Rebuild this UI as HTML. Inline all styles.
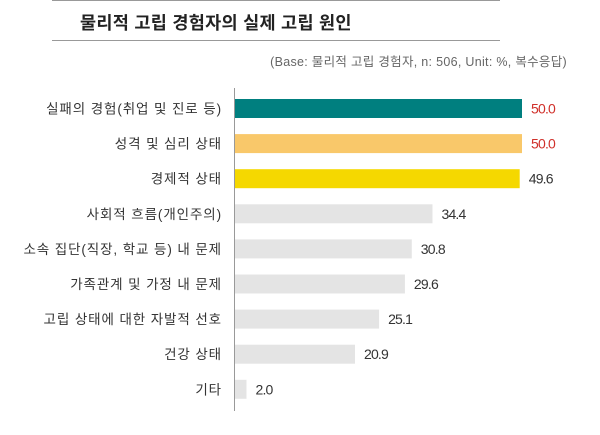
<!DOCTYPE html>
<html><head><meta charset="utf-8"><style>
body{margin:0;width:600px;height:430px;background:#fff;overflow:hidden;font-family:"Liberation Sans","Noto Sans CJK KR",sans-serif;}
</style></head><body>
<svg width="600" height="430" xmlns="http://www.w3.org/2000/svg">
<line x1="52" y1="0.5" x2="500" y2="0.5" stroke="#999"/>
<text x="80" y="29" font-size="17.5" font-weight="bold" fill="#222" letter-spacing="0.3">물리적 고립 경험자의 실제 고립 원인</text>
<line x1="52" y1="40.5" x2="500" y2="40.5" stroke="#999"/>
<text x="567" y="66" font-size="12.5" fill="#666" text-anchor="end" letter-spacing="0.3">(Base: 물리적 고립 경험자, n: 506, Unit: %, 복수응답)</text>
<line x1="234.5" y1="88" x2="234.5" y2="411" stroke="#999"/>
<g id="bars"></g>
</svg>
<script>
const categories=["실패의 경험(취업 및 진로 등)","성격 및 심리 상태","경제적 상태","사회적 흐름(개인주의)","소속 집단(직장, 학교 등) 내 문제","가족관계 및 가정 내 문제","고립 상태에 대한 자발적 선호","건강 상태","기타"];
const values=[50.0,50.0,49.6,34.4,30.8,29.6,25.1,20.9,2.0];
const colors=["#007f7f","#f9c86a","#f5d800","#e4e4e4","#e4e4e4","#e4e4e4","#e4e4e4","#e4e4e4","#e4e4e4"];
const valueColors=["#d0302a","#d0302a","#333","#333","#333","#333","#333","#333","#333"];
const x0=235,scale=287/50,y0=108.5,pitch=35.1,bh=19;
const xs=v=>x0+v*scale, ys=i=>y0+i*pitch;
const g=document.getElementById('bars');const NS="http://www.w3.org/2000/svg";
categories.forEach((c,i)=>{
 const r=document.createElementNS(NS,'rect');
 r.setAttribute('x',x0);r.setAttribute('y',ys(i)-bh/2);r.setAttribute('width',xs(values[i])-x0);r.setAttribute('height',bh);r.setAttribute('fill',colors[i]);
 
 
 g.appendChild(r);
 const l=document.createElementNS(NS,'text');
 l.setAttribute('x',222);l.setAttribute('y',ys(i)+5);l.setAttribute('text-anchor','end');l.setAttribute('font-size','13.5');l.setAttribute('letter-spacing','0.9');l.setAttribute('fill','#333');l.textContent=c;
 
 
 g.appendChild(l);
 const t=document.createElementNS(NS,'text');
 t.setAttribute('x',xs(values[i])+9);t.setAttribute('y',ys(i)+5);t.setAttribute('font-size','14');t.setAttribute('letter-spacing','-0.8');t.setAttribute('fill',valueColors[i]);t.textContent=values[i].toFixed(1);
 
 
 g.appendChild(t);
});
</script>
</body></html>
